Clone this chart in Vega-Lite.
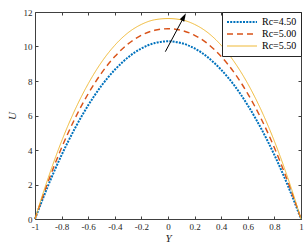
{
  "$schema": "https://vega.github.io/schema/vega-lite/v6.json",
  "width": 266,
  "height": 207,
  "autosize": {"type": "none"},
  "padding": {"left": 35, "top": 12, "right": 6, "bottom": 25},
  "background": "white",
  "config": {
    "font": "Liberation Serif",
    "view": {"stroke": null},
    "axis": {"labelFont": "Liberation Serif", "labelFontSize": 9, "labelColor": "#262626", "domainColor": "#404040", "tickColor": "#404040", "titleFont": "Liberation Serif", "titleFontStyle": "italic", "titleFontWeight": "normal", "titleFontSize": 11, "titleColor": "#262626", "grid": false, "tickSize": -3, "labelPadding": 6},
    "legend": {"orient": "top-right", "offset": 0, "strokeColor": "#262626", "fillColor": "white", "padding": 4, "symbolType": "stroke", "symbolSize": 900, "clipHeight": 12, "rowPadding": 0, "labelFont": "Liberation Serif", "labelFontSize": 10, "labelColor": "black", "labelOffset": 4}
  },
  "datasets": {
    "curves": [
      {"Y": -1.0, "U": 0.0, "Rc": "Rc=4.50"}, {"Y": -0.95, "U": 1.0, "Rc": "Rc=4.50"}, {"Y": -0.9, "U": 1.96, "Rc": "Rc=4.50"}, {"Y": -0.8, "U": 3.71, "Rc": "Rc=4.50"}, {"Y": -0.7, "U": 5.25, "Rc": "Rc=4.50"}, {"Y": -0.6, "U": 6.59, "Rc": "Rc=4.50"}, {"Y": -0.5, "U": 7.73, "Rc": "Rc=4.50"}, {"Y": -0.4, "U": 8.65, "Rc": "Rc=4.50"}, {"Y": -0.3, "U": 9.37, "Rc": "Rc=4.50"}, {"Y": -0.2, "U": 9.89, "Rc": "Rc=4.50"}, {"Y": -0.1, "U": 10.2, "Rc": "Rc=4.50"}, {"Y": 0.0, "U": 10.3, "Rc": "Rc=4.50"}, {"Y": 0.1, "U": 10.2, "Rc": "Rc=4.50"}, {"Y": 0.2, "U": 9.89, "Rc": "Rc=4.50"}, {"Y": 0.3, "U": 9.37, "Rc": "Rc=4.50"}, {"Y": 0.4, "U": 8.65, "Rc": "Rc=4.50"}, {"Y": 0.5, "U": 7.73, "Rc": "Rc=4.50"}, {"Y": 0.6, "U": 6.59, "Rc": "Rc=4.50"}, {"Y": 0.7, "U": 5.25, "Rc": "Rc=4.50"}, {"Y": 0.8, "U": 3.71, "Rc": "Rc=4.50"}, {"Y": 0.9, "U": 1.96, "Rc": "Rc=4.50"}, {"Y": 0.95, "U": 1.0, "Rc": "Rc=4.50"}, {"Y": 1.0, "U": 0.0, "Rc": "Rc=4.50"},
      {"Y": -1.0, "U": 0.0, "Rc": "Rc=5.00"}, {"Y": -0.95, "U": 1.13, "Rc": "Rc=5.00"}, {"Y": -0.9, "U": 2.19, "Rc": "Rc=5.00"}, {"Y": -0.8, "U": 4.13, "Rc": "Rc=5.00"}, {"Y": -0.7, "U": 5.82, "Rc": "Rc=5.00"}, {"Y": -0.6, "U": 7.26, "Rc": "Rc=5.00"}, {"Y": -0.5, "U": 8.46, "Rc": "Rc=5.00"}, {"Y": -0.4, "U": 9.42, "Rc": "Rc=5.00"}, {"Y": -0.3, "U": 10.15, "Rc": "Rc=5.00"}, {"Y": -0.2, "U": 10.65, "Rc": "Rc=5.00"}, {"Y": -0.1, "U": 10.94, "Rc": "Rc=5.00"}, {"Y": 0.0, "U": 11.03, "Rc": "Rc=5.00"}, {"Y": 0.1, "U": 10.94, "Rc": "Rc=5.00"}, {"Y": 0.2, "U": 10.65, "Rc": "Rc=5.00"}, {"Y": 0.3, "U": 10.15, "Rc": "Rc=5.00"}, {"Y": 0.4, "U": 9.42, "Rc": "Rc=5.00"}, {"Y": 0.5, "U": 8.46, "Rc": "Rc=5.00"}, {"Y": 0.6, "U": 7.26, "Rc": "Rc=5.00"}, {"Y": 0.7, "U": 5.82, "Rc": "Rc=5.00"}, {"Y": 0.8, "U": 4.13, "Rc": "Rc=5.00"}, {"Y": 0.9, "U": 2.19, "Rc": "Rc=5.00"}, {"Y": 0.95, "U": 1.13, "Rc": "Rc=5.00"}, {"Y": 1.0, "U": 0.0, "Rc": "Rc=5.00"},
      {"Y": -1.0, "U": 0.0, "Rc": "Rc=5.50"}, {"Y": -0.95, "U": 1.24, "Rc": "Rc=5.50"}, {"Y": -0.9, "U": 2.4, "Rc": "Rc=5.50"}, {"Y": -0.8, "U": 4.51, "Rc": "Rc=5.50"}, {"Y": -0.7, "U": 6.32, "Rc": "Rc=5.50"}, {"Y": -0.6, "U": 7.84, "Rc": "Rc=5.50"}, {"Y": -0.5, "U": 9.09, "Rc": "Rc=5.50"}, {"Y": -0.4, "U": 10.07, "Rc": "Rc=5.50"}, {"Y": -0.3, "U": 10.8, "Rc": "Rc=5.50"}, {"Y": -0.2, "U": 11.28, "Rc": "Rc=5.50"}, {"Y": -0.1, "U": 11.55, "Rc": "Rc=5.50"}, {"Y": 0.0, "U": 11.62, "Rc": "Rc=5.50"}, {"Y": 0.1, "U": 11.55, "Rc": "Rc=5.50"}, {"Y": 0.2, "U": 11.28, "Rc": "Rc=5.50"}, {"Y": 0.3, "U": 10.8, "Rc": "Rc=5.50"}, {"Y": 0.4, "U": 10.07, "Rc": "Rc=5.50"}, {"Y": 0.5, "U": 9.09, "Rc": "Rc=5.50"}, {"Y": 0.6, "U": 7.84, "Rc": "Rc=5.50"}, {"Y": 0.7, "U": 6.32, "Rc": "Rc=5.50"}, {"Y": 0.8, "U": 4.51, "Rc": "Rc=5.50"}, {"Y": 0.9, "U": 2.4, "Rc": "Rc=5.50"}, {"Y": 0.95, "U": 1.24, "Rc": "Rc=5.50"}, {"Y": 1.0, "U": 0.0, "Rc": "Rc=5.50"}
    ],
    "arrow": [{"x1": -0.02, "y1": 9.7, "x2": 0.12, "y2": 11.72}]
  },
  "layer": [
    {
      "data": {"name": "curves"},
      "mark": {"type": "line", "interpolate": "monotone"},
      "encoding": {
        "x": {"field": "Y", "type": "quantitative", "scale": {"domain": [-1, 1], "nice": false}, "axis": {"orient": "bottom", "values": [-1, -0.8, -0.6, -0.4, -0.2, 0, 0.2, 0.4, 0.6, 0.8, 1], "format": "~g", "labelExpr": "replace(datum.label, '\u2212', '-')", "title": "Y", "titlePadding": 1, "labelFlush": false}},
        "y": {"field": "U", "type": "quantitative", "scale": {"domain": [0, 12], "nice": false}, "axis": {"orient": "left", "values": [0, 2, 4, 6, 8, 10, 12], "title": "U", "titlePadding": 6, "titleAngle": -90, "labelFlush": false}},
        "color": {"field": "Rc", "type": "nominal", "scale": {"range": ["#0072BD", "#D95319", "#EDB120"]}, "legend": {"title": null}},
        "strokeDash": {"field": "Rc", "type": "nominal", "scale": {"range": [[2, 1.2], [6, 4], [1, 0]]}, "legend": {"title": null}},
        "strokeWidth": {"field": "Rc", "type": "nominal", "scale": {"range": [2, 0.9, 1]}, "legend": {"title": null}}
      }
    },
    {
      "data": {"name": "curves"},
      "mark": {"type": "line", "opacity": 0},
      "encoding": {
        "x": {"field": "Y", "type": "quantitative", "scale": {"domain": [-1, 1], "nice": false}, "axis": {"orient": "top", "values": [-1, -0.8, -0.6, -0.4, -0.2, 0, 0.2, 0.4, 0.6, 0.8, 1], "labels": false, "title": null}},
        "y": {"field": "U", "type": "quantitative", "scale": {"domain": [0, 12], "nice": false}, "axis": {"orient": "right", "values": [0, 2, 4, 6, 8, 10, 12], "labels": false, "title": null}},
        "detail": {"field": "Rc", "type": "nominal"}
      }
    },
    {
      "data": {"name": "arrow"},
      "mark": {"type": "rule", "color": "black", "strokeWidth": 1},
      "encoding": {
        "x": {"field": "x1", "type": "quantitative", "axis": null},
        "y": {"field": "y1", "type": "quantitative", "axis": null},
        "x2": {"field": "x2"},
        "y2": {"field": "y2"}
      }
    },
    {
      "data": {"name": "arrow"},
      "mark": {"type": "point", "shape": "M0,-1L0.6,1L-0.6,1Z", "filled": true, "color": "black", "opacity": 1, "size": 70, "angle": 28},
      "encoding": {
        "x": {"field": "x2", "type": "quantitative", "axis": null},
        "y": {"field": "y2", "type": "quantitative", "axis": null}
      }
    }
  ],
  "resolve": {"axis": {"x": "independent", "y": "independent"}}
}
